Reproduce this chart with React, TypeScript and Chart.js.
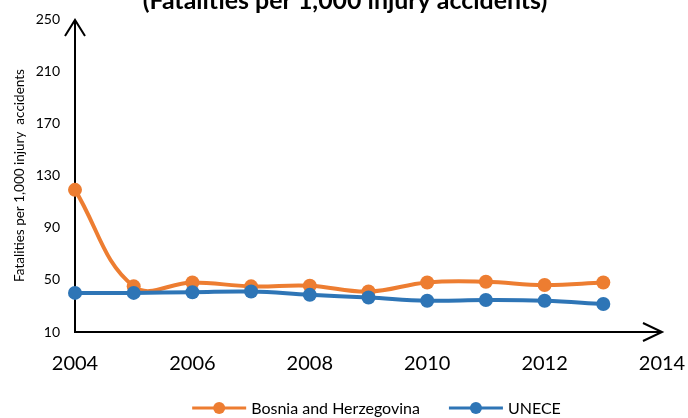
import React, { useEffect, useRef } from "react";
import { Chart, registerables } from "chart.js";

Chart.register(...registerables);

// ---- data ----
const years = [2004, 2005, 2006, 2007, 2008, 2009, 2010, 2011, 2012, 2013];
const bosniaValues = [119, 45, 48, 45, 45.5, 41, 48, 48.5, 46, 48];
const uneceValues = [40, 40, 40.5, 41, 38.5, 36.5, 34, 34.5, 34, 31.5];
const seriesNames = ["Bosnia and Herzegovina", "UNECE"];
const seriesColors = ["#ED7D31", "#2E75B6"];
const yMin = 10;
const yMax = 250;
const yStep = 40;
const xMin = 2004;
const xMax = 2014;
const xStep = 2;
const chartTitle = "(Fatalities per 1,000 injury accidents)";
const yAxisTitle = "Fatalities per 1,000 injury  accidents";

const FONT = "Lato, 'Open Sans', 'Liberation Sans', sans-serif";

const titlePlugin = {
  id: "cutTitle",
  afterDraw(chart: any) {
    const { ctx } = chart;
    ctx.save();
    let size = 20;
    ctx.font = `bold ${size}px ${FONT}`;
    const w = ctx.measureText(chartTitle).width;
    size = (size * 405) / w;
    ctx.font = `bold ${size}px ${FONT}`;
    ctx.fillStyle = "#000";
    ctx.textAlign = "center";
    ctx.textBaseline = "alphabetic";
    ctx.fillText(chartTitle, 345, 9);
    ctx.restore();
  },
};

const axesPlugin = {
  id: "arrowAxes",
  beforeDatasetsDraw(chart: any) {
    const { ctx, chartArea } = chart;
    const { left, right, top, bottom } = chartArea;
    ctx.save();
    ctx.strokeStyle = "#000";
    ctx.lineWidth = 2;
    ctx.lineCap = "butt";
    ctx.lineJoin = "miter";
    ctx.beginPath();
    ctx.moveTo(left, bottom + 1);
    ctx.lineTo(left, top + 1);
    ctx.moveTo(left - 1, bottom);
    ctx.lineTo(right, bottom);
    ctx.stroke();
    ctx.beginPath();
    ctx.moveTo(left - 10, top + 17);
    ctx.lineTo(left, top + 1);
    ctx.lineTo(left + 10, top + 17);
    ctx.moveTo(right - 19, bottom - 9);
    ctx.lineTo(right, bottom);
    ctx.lineTo(right - 19, bottom + 9);
    ctx.stroke();
    ctx.restore();
  },
};

const legendPlugin = {
  id: "lineLegend",
  afterDraw(chart: any) {
    const { ctx, chartArea } = chart;
    const datasets = chart.data.datasets;
    ctx.save();
    ctx.font = `16px ${FONT}`;
    const lineW = 54;
    const gapText = 5;
    const gapItems = 29;
    const widths = datasets.map((d: any) => lineW + gapText + ctx.measureText(d.label).width);
    const total = widths.reduce((a: number, b: number) => a + b, 0) + gapItems * (datasets.length - 1);
    let x = (chartArea.left + chartArea.right) / 2 + 8 - total / 2;
    const y = 408;
    datasets.forEach((d: any, i: number) => {
      ctx.strokeStyle = d.borderColor;
      ctx.lineWidth = 3;
      ctx.beginPath();
      ctx.moveTo(x, y);
      ctx.lineTo(x + lineW, y);
      ctx.stroke();
      ctx.fillStyle = d.backgroundColor;
      ctx.beginPath();
      ctx.arc(x + lineW / 2, y, 6, 0, Math.PI * 2);
      ctx.fill();
      ctx.fillStyle = "#000";
      ctx.textAlign = "left";
      ctx.textBaseline = "middle";
      ctx.fillText(d.label, x + lineW + gapText, y + 1);
      x += widths[i] + gapItems;
    });
    ctx.restore();
  },
};

export default function App() {
  const canvasRef = useRef<HTMLCanvasElement | null>(null);

  useEffect(() => {
    if (!canvasRef.current) return;
    const makeData = (vals: number[]) => years.map((yr, i) => ({ x: yr, y: vals[i] }));
    const chart = new Chart(canvasRef.current, {
      type: "line",
      data: {
        datasets: [
          {
            label: seriesNames[0],
            data: makeData(bosniaValues),
            borderColor: seriesColors[0],
            backgroundColor: seriesColors[0],
            borderWidth: 4,
            pointRadius: 7,
            pointHoverRadius: 7,
            pointBorderWidth: 0,
            tension: 0.4,
            clip: false,
            order: 1,
          },
          {
            label: seriesNames[1],
            data: makeData(uneceValues),
            borderColor: seriesColors[1],
            backgroundColor: seriesColors[1],
            borderWidth: 4,
            pointRadius: 7,
            pointHoverRadius: 7,
            pointBorderWidth: 0,
            tension: 0.4,
            clip: false,
            order: 0,
          },
        ],
      },
      options: {
        animation: false,
        responsive: true,
        maintainAspectRatio: false,
        layout: { padding: { top: 19, right: 26, bottom: 0, left: 0 } },
        plugins: {
          legend: { display: false },
          tooltip: { enabled: false },
          title: { display: false },
        },
        scales: {
          x: {
            type: "linear",
            min: xMin,
            max: xMax,
            grid: {
              display: true,
              drawOnChartArea: false,
              drawTicks: true,
              tickLength: 18,
              color: "rgba(0,0,0,0)",
            },
            border: { display: false },
            ticks: {
              stepSize: xStep,
              color: "#000",
              font: { family: FONT, size: 20 },
              padding: 2,
              maxRotation: 0,
              callback: (v: any) => String(v),
            },
            afterFit: (scale: any) => {
              scale.height = 86;
            },
          },
          y: {
            min: yMin,
            max: yMax,
            grid: {
              display: true,
              drawOnChartArea: false,
              drawTicks: true,
              tickLength: 13,
              color: "rgba(0,0,0,0)",
            },
            border: { display: false },
            ticks: {
              stepSize: yStep,
              color: "#000",
              font: { family: FONT, size: 14 },
              padding: 2,
            },
            title: {
              display: true,
              text: yAxisTitle,
              color: "#000",
              font: { family: FONT, size: 13.5 },
              padding: { top: 12, bottom: 0 },
            },
            afterFit: (scale: any) => {
              scale.width = 75;
            },
          },
        },
      },
      plugins: [axesPlugin, titlePlugin, legendPlugin],
    });
    return () => chart.destroy();
  }, []);

  return (
    <div style={{ position: "fixed", left: 0, top: 0, width: 688, height: 418, background: "#fff" }}>
      <canvas ref={canvasRef} />
    </div>
  );
}
